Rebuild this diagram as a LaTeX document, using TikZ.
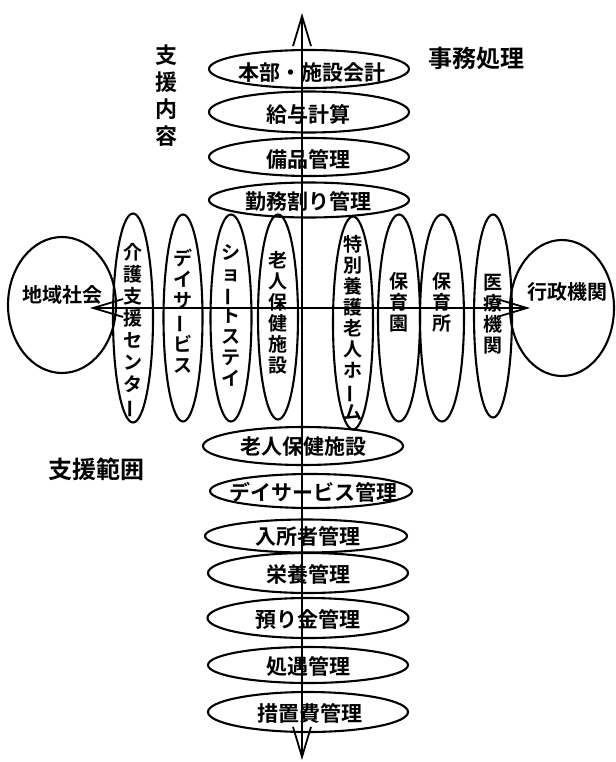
\documentclass[tikz,border=0pt]{standalone}
\usepackage{fontspec}
\IfFontExistsTF{Noto Sans CJK JP Bold}
  {\newfontfamily\jpfam{Noto Sans CJK JP Bold}}
  {\newfontfamily\jpfam{Noto Sans CJK JP}}
\newcommand{\jp}{\jpfam}
\usetikzlibrary{shapes.geometric,arrows.meta}
\begin{document}
\begin{tikzpicture}[x=1pt,y=-1pt,
  ell/.style={ellipse, draw, line width=2.1pt, inner sep=0pt},
  hell/.style={ell, minimum width=200, minimum height=38},
  vell/.style={ell, minimum width=40, minimum height=207},
  htext/.style={inner sep=0pt, font=\jp\fontsize{21}{21}\selectfont},
  vtext/.style={inner sep=0pt, align=center, font=\jp\fontsize{19}{21}\selectfont},
  vtextb/.style={vtext, font=\jp\fontsize{19}{22}\selectfont},
  ttl/.style={inner sep=0pt, font=\jp\fontsize{24}{24}\selectfont},
  ttlv/.style={inner sep=0pt, align=center, font=\jp\fontsize{22}{27}\selectfont},
  axis/.style={line width=2pt, {Straight Barb[length=30pt,width=18pt,line width=1.8pt]}-{Straight Barb[length=30pt,width=18pt,line width=1.8pt]}}
]
\useasboundingbox (0,0) rectangle (615,762);
\newcommand{\vbar}{\rotatebox[origin=c]{90}{ー}}

% top ellipses
\node[hell] (h1) at (309,69) {};
\node[hell, minimum height=41] (h2) at (309,112) {};
\node[hell] (h3) at (309,157) {};
\node[hell, minimum height=35] (h4) at (309,200) {};
\node[htext] (th1) at (312,73) {本部・施設会計};
\node[htext] (th2) at (308,114) {給与計算};
\node[htext] (th3) at (308,159) {備品管理};
\node[htext] (th4) at (308,201) {勤務割り管理};

% bottom ellipses
\node[hell] (b1) at (303,446) {};
\node[hell, minimum width=202, minimum height=34] (b2) at (311,491) {};
\node[hell, minimum width=202, minimum height=33] (b3) at (306,536) {};
\node[hell, minimum height=40] (b4) at (308,573) {};
\node[hell, minimum width=201, minimum height=40] (b5) at (308,618) {};
\node[hell, minimum height=36] (b6) at (308,665) {};
\node[hell, minimum height=40] (b7) at (308,712) {};
\node[htext] (tb1) at (303,447) {老人保健施設};
\node[htext] (tb2) at (313,492) {デイサービス管理};
\node[htext] (tb3) at (308,536) {入所者管理};
\node[htext] (tb4) at (308,574) {栄養管理};
\node[htext] (tb5) at (308,619) {預り金管理};
\node[htext] (tb6) at (308,666) {処遇管理};
\node[htext] (tb7) at (310,713) {措置費管理};

% side circles
\node[ell, minimum width=108, minimum height=136] (chiiki) at (62,305) {};
\node[ell, minimum width=104, minimum height=136] (gyosei) at (562,308) {};
\node[inner sep=0pt, font=\jp\fontsize{20}{20}\selectfont] (tchiiki) at (62,295) {地域社会};
\node[inner sep=0pt, font=\jp\fontsize{20}{20}\selectfont] (tgyosei) at (567,292) {行政機関};

% vertical ellipses
\node[vell, minimum height=209] (v1) at (133,318) {};
\node[vell, minimum width=39] (v2) at (183,318) {};
\node[vell, minimum width=41] (v3) at (231,318) {};
\node[vell, minimum height=205] (v4) at (278,317) {};
\node[vell, minimum height=213] (v5) at (353,323) {};
\node[vell, minimum width=42] (v6) at (399,318) {};
\node[vell, minimum width=44] (v7) at (442,318) {};
\node[vell, minimum width=38, minimum height=203] (v8) at (493,316) {};

\node[vtextb] (tv1) at (133,331) {介\\護\\支\\援\\セ\\ン\\タ\\\vbar};
\node[vtext] (tv2) at (183,311) {デ\\イ\\サ\\\vbar\\ビ\\ス};
\node[vtext] (tv3) at (231,315) {シ\\ョ\\\vbar\\ト\\ス\\テ\\イ};
\node[vtext] (tv4) at (278,313) {老\\人\\保\\健\\施\\設};
\node[vtext] (tv5) at (353,328) {特\\別\\養\\護\\老\\人\\ホ\\\vbar\\ム};
\node[vtext] (tv6) at (399,302) {保\\育\\園};
\node[vtext] (tv7) at (442,302) {保\\育\\所};
\node[vtext] (tv8) at (493,314) {医\\療\\機\\関};

% titles
\node[ttlv] (naiyo) at (166,96) {支\\援\\内\\容};
\node[ttl] (jimu) at (476,58) {事務処理};
\node[ttl] (hani) at (96,469) {支援範囲};

% axes
\coordinate (top) at (302,13);
\coordinate (bot) at (302,760);
\coordinate (lft) at (90,308);
\coordinate (rgt) at (530,308);
\draw[axis] (bot) -- (top);
\draw[axis] (rgt) -- (lft);
\end{tikzpicture}
\end{document}
